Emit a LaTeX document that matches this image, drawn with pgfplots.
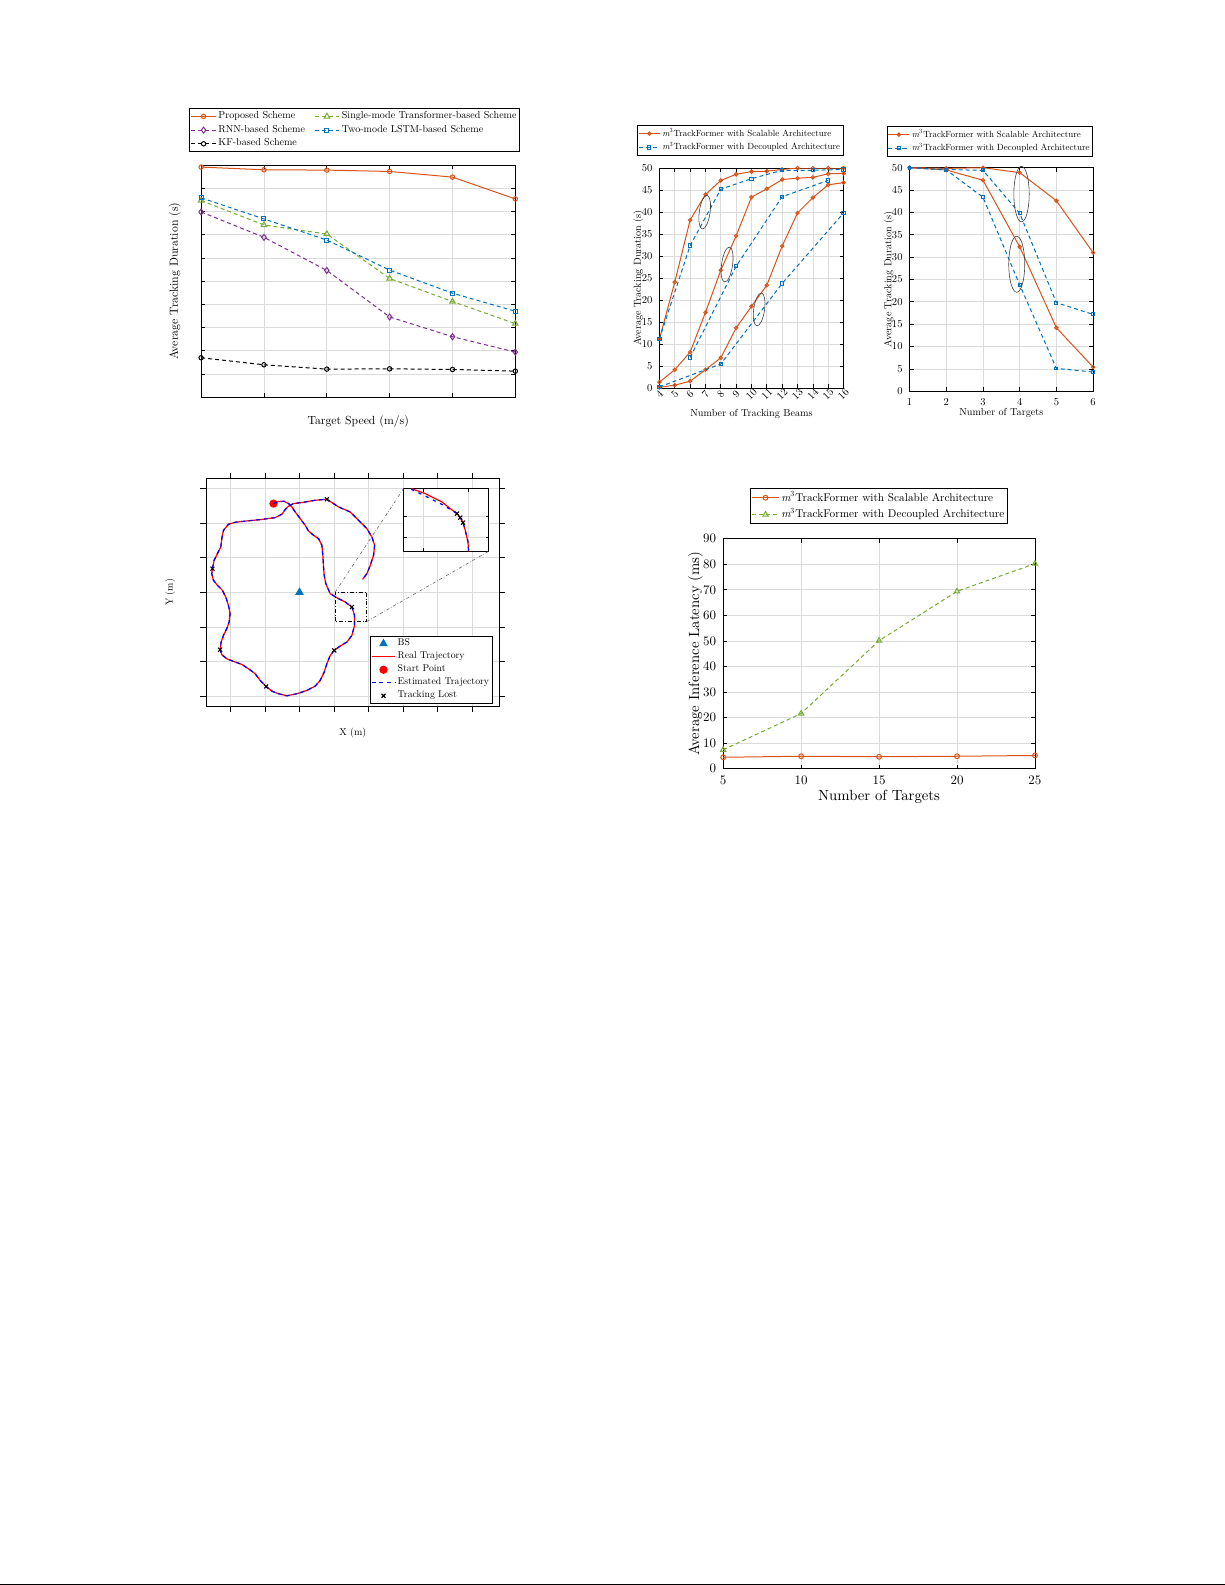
\RequirePackage{fix-cm}
\documentclass[border=0pt]{standalone}
\usepackage{fontspec}
\setmainfont{lmroman10-regular.otf}[ItalicFont=lmroman10-italic.otf, BoldFont=lmroman10-bold.otf]
\usepackage{pgfplots}
\usepackage{pgfplotstable}
\pgfplotsset{compat=1.18}

\definecolor{mo}{rgb}{0.85,0.325,0.098}
\definecolor{mb}{rgb}{0,0.447,0.741}
\definecolor{mg}{rgb}{0.466,0.674,0.188}
\definecolor{mp}{rgb}{0.494,0.184,0.556}
\definecolor{gridc}{gray}{0.86}

\newcommand\fs[1]{\fontsize{#1}{#1}\selectfont}
\newcommand\mtf{{\itshape m}\textsuperscript{3}TrackFormer}
\tikzset{dsh/.style={dash pattern=on 2bp off 1.5bp}}

\pgfplotsset{
  limg/.style={legend image code/.code={\draw[mark repeat=2,mark phase=2] plot coordinates {(0pt,0pt) (#1,0pt) (2*#1,0pt)};}},
  mstyle/.style={
    scale only axis,
    anchor=south west,
    axis line style={line width=0.45bp},
    grid=major,
    major grid style={line width=0.35bp, draw=gridc},
    tick align=inside,
    major tick length=2bp,
    tick style={line width=0.35bp, black},
    /pgf/number format/assume math mode=true,
    legend cell align=left,
    legend style={draw=black, line width=0.45bp, inner sep=0.5bp},
    every axis plot/.append style={line width=0.5bp},
    clip mode=individual,
  },
}

% trajectory of the tracked target (m), BS at the origin
\pgfplotstableread{
x y
-15.05 51.34
-12.16 52.50
-8.88 52.69
-6.37 51.34
-4.44 49.41
-2.51 46.51
0.39 42.65
3.28 38.79
5.21 35.51
8.11 33.00
11.00 31.07
12.93 27.21
13.51 21.42
13.90 14.67
14.28 9.84
15.25 5.02
17.76 -0.77
22.58 -3.67
26.44 -5.60
30.30 -8.49
31.85 -13.32
31.85 -19.11
30.30 -24.90
27.41 -28.76
23.55 -31.07
20.07 -33.58
17.76 -36.48
15.83 -41.30
14.28 -46.13
11.97 -50.95
9.07 -54.23
4.25 -56.74
-1.54 -58.67
-7.33 -59.83
-12.16 -58.67
-16.02 -57.13
-19.30 -54.43
-22.77 -50.95
-25.67 -47.09
-29.53 -44.20
-33.39 -41.69
-38.21 -39.95
-42.07 -38.41
-44.97 -36.09
-45.93 -33.20
-45.36 -28.76
-44.00 -24.90
-42.07 -21.04
-40.72 -17.18
-40.14 -12.35
-41.11 -7.53
-42.65 -2.70
-44.58 1.16
-47.48 4.05
-49.79 6.95
-50.76 10.81
-50.37 13.70
-49.41 18.53
-47.48 22.39
-45.55 26.25
-44.97 31.07
-44.00 35.90
-41.11 39.37
-37.25 40.53
-30.49 41.30
-22.77 42.07
-14.09 43.23
-10.23 45.16
-8.30 47.86
-6.37 49.79
-3.47 51.34
2.32 52.11
9.07 53.27
15.83 53.85
22.58 49.41
29.34 46.51
34.16 41.69
38.99 36.86
41.88 32.04
43.43 27.21
42.85 21.42
40.92 15.63
38.99 10.81
36.48 7.53
}\traj

\begin{document}
\begin{tikzpicture}
\fill[white] (0,0) rectangle (612bp,792bp);
\path[use as bounding box] (0,0) rectangle (612bp,792bp);

% ---------------- top left: tracking duration vs speed
\begin{axis}[mstyle,
  at={(100.5bp,593.5bp)}, width=157bp, height=116bp,
  xmin=1, xmax=6, ymin=0, ymax=50,
  xtick={1,...,6}, ytick={0,5,...,50},
  xticklabel=\empty, yticklabel=\empty,
  xlabel={Target Speed (m/s)}, ylabel={Average Tracking Duration (s)},
  label style={font=\fs{5.9}},
  xlabel style={at={(axis description cs:0.5,-0.103)}, anchor=center},
  ylabel style={at={(axis description cs:-0.083,0.5)}, anchor=center},
  legend columns=2, limg=6.2bp,
  legend style={font=\fs{5.05}, at={(-0.038,1.056)}, anchor=south west,
    nodes={inner xsep=1bp, inner ysep=0.9bp},
    /tikz/every even column/.append style={column sep=3.5bp}},
]
\addplot[mo, mark=o, mark size=1.1bp] coordinates {(1,49.57)(2,48.99)(3,48.92)(4,48.63)(5,47.41)(6,42.72)};
\addlegendentry{Proposed Scheme}
\addplot[mg, dsh, mark=triangle, mark size=1.6bp, mark options={solid}] coordinates {(1,42.36)(2,37.10)(3,35.16)(4,25.58)(5,20.61)(6,15.85)};
\addlegendentry{Single-mode Transformer-based Scheme}
\addplot[mp, dsh, mark=diamond, mark size=1.5bp, mark options={solid}] coordinates {(1,39.91)(2,34.44)(3,27.31)(4,17.29)(5,13.04)(6,9.73)};
\addlegendentry{RNN-based Scheme}
\addplot[mb, dsh, mark=square, mark size=1bp, mark options={solid}] coordinates {(1,42.94)(2,38.40)(3,33.86)(4,27.38)(5,22.41)(6,18.52)};
\addlegendentry{Two-mode LSTM-based Scheme}
\addplot[black, dsh, mark=o, mark size=1.1bp, mark options={solid}] coordinates {(1,8.50)(2,6.99)(3,6.05)(4,6.12)(5,5.98)(6,5.62)};
\addlegendentry{KF-based Scheme}
\end{axis}

% ---------------- top middle: tracking duration vs number of beams
\begin{axis}[mstyle,
  at={(329.5bp,598bp)}, width=92bp, height=110bp,
  xmin=4, xmax=16, ymin=0, ymax=50,
  xtick={4,...,16}, ytick={0,5,...,50},
  tick label style={font=\fs{5.3}},
  xticklabel style={rotate=45, anchor=center}, xticklabel shift=3bp,
  xlabel={Number of Tracking Beams}, ylabel={Average Tracking Duration (s)},
  label style={font=\fs{5.1}},
  xlabel style={at={(axis description cs:0.5,-0.115)}, anchor=center},
  ylabel style={at={(axis description cs:-0.114,0.5)}, anchor=center},
  limg=5.2bp,
  legend style={font=\fs{4.5}, at={(1,1.056)}, anchor=south east,
    nodes={inner xsep=1bp, inner ysep=0.75bp}},
]
\addplot[mo, mark=o, mark size=0.85bp] coordinates {(4,11.2)(5,24.1)(6,38.2)(7,44.0)(8,47.2)(9,48.6)(10,49.2)(11,49.3)(12,49.7)(13,50)(14,50)(15,50)(16,50)};
\addlegendentry{\mtf{} with Scalable Architecture}
\addplot[mb, dsh, mark=square, mark size=0.8bp, mark options={solid}] coordinates {(4,11.2)(6,32.4)(8,45.2)(10,47.6)(12,49.5)(14,49.5)(16,49.7)};
\addlegendentry{\mtf{} with Decoupled Architecture}
\addplot[mo, mark=o, mark size=0.85bp, forget plot] coordinates {(4,1.4)(5,4.2)(6,8.2)(7,17.2)(8,26.8)(9,34.6)(10,43.4)(11,45.3)(12,47.4)(13,47.7)(14,47.9)(15,48.7)(16,48.8)};
\addplot[mo, mark=o, mark size=0.85bp, forget plot] coordinates {(4,0.2)(5,0.7)(6,1.6)(7,4.2)(8,6.9)(9,13.7)(10,18.6)(11,23.4)(12,32.3)(13,39.8)(14,43.3)(15,46.2)(16,46.7)};
\addplot[mb, dsh, mark=square, mark size=0.8bp, mark options={solid}, forget plot] coordinates {(6,7.0)(9,27.7)(12,43.5)(15,47.2)};
\addplot[mb, dsh, mark=square, mark size=0.8bp, mark options={solid}, forget plot] coordinates {(4,0.3)(8,5.5)(12,23.8)(16,39.8)};
\draw[black!75, line width=0.3bp] (axis cs:6.95,40.0) ellipse [x radius=2.7bp, y radius=8.5bp, rotate=-8];
\draw[black!75, line width=0.3bp] (axis cs:8.41,28.1) ellipse [x radius=2.75bp, y radius=8.8bp, rotate=-8];
\draw[black!75, line width=0.3bp] (axis cs:10.5,17.9) ellipse [x radius=2.7bp, y radius=8.3bp, rotate=-8];
\end{axis}

% ---------------- top right: tracking duration vs number of targets
\begin{axis}[mstyle,
  at={(454.5bp,596.5bp)}, width=91.7bp, height=111.7bp,
  xmin=1, xmax=6, ymin=0, ymax=50,
  xtick={1,...,6}, ytick={0,5,...,50},
  tick label style={font=\fs{5.3}},
  xlabel={Number of Targets}, ylabel={Average Tracking Duration (s)},
  label style={font=\fs{5.1}},
  xlabel style={at={(axis description cs:0.5,-0.096)}, anchor=center},
  ylabel style={at={(axis description cs:-0.113,0.5)}, anchor=center},
  limg=5.2bp,
  legend style={font=\fs{4.5}, at={(1,1.049)}, anchor=south east,
    nodes={inner xsep=1bp, inner ysep=0.75bp}},
]
\addplot[mo, mark=o, mark size=0.85bp] coordinates {(1,50)(2,49.85)(3,50)(4,48.9)(5,42.6)(6,31.0)};
\addlegendentry{\mtf{} with Scalable Architecture}
\addplot[mb, dsh, mark=square, mark size=0.7bp, mark options={solid}] coordinates {(1,50)(2,49.6)(3,49.4)(4,39.8)(5,19.8)(6,17.2)};
\addlegendentry{\mtf{} with Decoupled Architecture}
\addplot[mo, mark=o, mark size=0.85bp, forget plot] coordinates {(1,50)(2,49.5)(3,47.2)(4,32.3)(5,14.2)(6,5.4)};
\addplot[mb, dsh, mark=square, mark size=0.7bp, mark options={solid}, forget plot] coordinates {(1,50)(2,49.5)(3,43.4)(4,23.8)(5,5.1)(6,4.3)};
\draw[black!75, line width=0.3bp] (axis cs:4.05,44.1) ellipse [x radius=3.85bp, y radius=13.85bp];
\draw[black!75, line width=0.3bp] (axis cs:3.92,28.4) ellipse [x radius=4bp, y radius=14bp];
\end{axis}

% ---------------- bottom left: trajectory
\begin{axis}[mstyle,
  at={(103.15bp,439bp)}, width=146.35bp, height=113.85bp,
  xmin=-53.85, xmax=115.6, ymin=-66, ymax=65.8,
  xtick={-40,-20,...,100}, ytick={-60,-40,...,60},
  xticklabel=\empty, yticklabel=\empty,
  tick align=outside, major tick length=3bp,
  xlabel={X (m)}, ylabel={Y (m)},
  label style={font=\fs{5}},
  xlabel style={at={(axis description cs:0.5,-0.117)}, anchor=center},
  ylabel style={at={(axis description cs:-0.124,0.5)}, anchor=center},
  limg=5.8bp,
  legend style={font=\fs{4.9}, at={(0.977,0.012)}, anchor=south east,
    nodes={inner xsep=1bp, inner ysep=0.8bp}},
]
\addplot[only marks, mb, mark=triangle*, mark size=2bp] coordinates {(0,0)};
\addlegendentry{BS}
\addplot[red, line width=0.6bp] table {\traj};
\addlegendentry{Real Trajectory}
\addplot[only marks, red, mark=*, mark size=1.8bp] coordinates {(-15.05,51.34)};
\addlegendentry{Start Point}
\addplot[blue, line width=0.6bp, dash pattern=on 2bp off 1.8bp] table {\traj};
\addlegendentry{Estimated Trajectory}
\addplot[only marks, black, mark=x, mark size=1.4bp, line width=0.55bp] coordinates {(30.30,-8.49)(20.07,-33.58)(-19.30,-54.43)(-45.93,-33.20)(-50.37,13.70)(15.83,53.85)};
\addlegendentry{Tracking Lost}
\draw[black, line width=0.45bp, dash pattern=on 2bp off 1bp on 0.4bp off 1bp] (axis cs:20.65,-16.8) rectangle (axis cs:39,0.2);
\end{axis}

% zoomed inset
\begin{axis}[mstyle,
  at={(201.65bp,516.5bp)}, width=42.5bp, height=31.35bp,
  xmin=-0.431, xmax=1.458, ymin=-0.631, ymax=2.258,
  xtick={0,1}, ytick={0,1},
  xticklabel=\empty, yticklabel=\empty,
  major tick length=1.5bp,
  axis background/.style={fill=white},
]
\addplot[red, line width=0.6bp] coordinates {(-0.26,2.258)(0.051,2.028)(0.273,1.797)(0.422,1.641)(0.607,1.336)(0.756,1.106)(0.829,0.922)(0.889,0.691)(0.940,0.336)(1.0,-0.203)(1.013,-0.631)};
\addplot[blue, line width=0.6bp, dash pattern=on 1.6bp off 2.4bp] coordinates {(-0.26,2.226)(0.051,1.917)(0.458,1.488)(0.756,1.106)(0.829,0.922)(0.889,0.691)(0.940,0.336)(1.0,-0.203)(1.013,-0.631)};
\addplot[only marks, black, mark=x, mark size=1.4bp, line width=0.55bp] coordinates {(0.756,1.106)(0.829,0.922)(0.889,0.691)};
\end{axis}
\draw[black!60, line width=0.3bp, dash pattern=on 1.5bp off 1bp on 0.3bp off 1bp] (167.5bp,496.15bp) -- (201.65bp,547.85bp);
\draw[black!60, line width=0.3bp, dash pattern=on 1.5bp off 1bp on 0.3bp off 1bp] (183.35bp,481.5bp) -- (244.15bp,516.5bp);

% ---------------- bottom right: inference latency
\begin{axis}[mstyle,
  at={(361.35bp,407.85bp)}, width=155.8bp, height=115bp,
  xmin=5, xmax=25, ymin=0, ymax=90,
  xtick={5,10,...,25}, ytick={0,10,...,90},
  tick label style={font=\fs{6.5}},
  xlabel={Number of Targets}, ylabel={Average Inference Latency (ms)},
  label style={font=\fs{7.4}},
  xlabel style={at={(axis description cs:0.5,-0.1235)}, anchor=center},
  ylabel style={at={(axis description cs:-0.089,0.5)}, anchor=center},
  limg=6.6bp,
  legend style={font=\fs{5.65}, at={(0.5,1.062)}, anchor=south,
    nodes={inner xsep=1bp, inner ysep=1bp}},
]
\addplot[mo, mark=o, mark size=1.2bp] coordinates {(5,4.5)(10,4.9)(15,4.7)(20,4.9)(25,5.2)};
\addlegendentry{\mtf{} with Scalable Architecture}
\addplot[mg, dsh, mark=triangle, mark size=1.5bp, mark options={solid}] coordinates {(5,7.4)(10,21.6)(15,50.1)(20,69.4)(25,80.2)};
\addlegendentry{\mtf{} with Decoupled Architecture}
\end{axis}

% page rule at the foot
\draw[black, line width=0.6bp] (0,0.35bp) -- (612bp,0.35bp);
\end{tikzpicture}
\end{document}
